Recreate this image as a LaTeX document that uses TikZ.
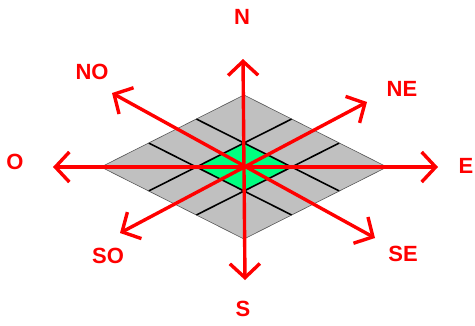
\documentclass[tikz,border=0pt]{standalone}
\usepackage{fontspec}
\setmainfont{Liberation Sans}
\usetikzlibrary{arrows.meta,calc}
\definecolor{rojo}{HTML}{FF0000}
\definecolor{verde}{HTML}{00FF80}
\definecolor{gris}{HTML}{C0C0C0}

\begin{document}
\begin{tikzpicture}[x=1pt,y=-1pt,
   flecha/.style={rojo,line width=3.4pt,{Straight Barb[length=14pt,width=30pt]}-{Straight Barb[length=14pt,width=30pt]}},
   rumbo/.style={text=rojo,font=\fontsize{22}{26}\selectfont\bfseries,inner sep=0pt},
   rejilla/.style={black,line width=1.6pt}]
  \useasboundingbox (0,0) rectangle (475,325);
  % rombo
  \coordinate (C) at (244,167);
  \coordinate (L) at (101,167);
  \coordinate (T) at (244,95);
  \coordinate (R) at (387,167);
  \coordinate (B) at (244,239);
  \fill[gris] (L) -- (T) -- (R) -- (B) -- cycle;
  % casilla central
  \fill[verde] ($(C)!1/3!(L)$) -- ($(C)!1/3!(T)$) -- ($(C)!1/3!(R)$) -- ($(C)!1/3!(B)$) -- cycle;
  % rejilla
  \foreach \f in {1/3,2/3} {
    \draw[rejilla] ($(L)!\f!(T)$) -- ($(B)!\f!(R)$);
    \draw[rejilla] ($(T)!\f!(R)$) -- ($(L)!\f!(B)$);
  }
  \draw[gris!45!black,semithick] (L) -- (T) -- (R) -- (B) -- cycle;
  % puntas de las flechas
  \coordinate (pN) at (243,59);
  \coordinate (pS) at (245,280);
  \coordinate (pE) at (438,167);
  \coordinate (pO) at (53,167);
  \coordinate (pNE) at (367,102);
  \coordinate (pSO) at (120,233);
  \coordinate (pNO) at (112,93);
  \coordinate (pSE) at (375,238);
  \draw[flecha] (pS) -- (pN);
  \draw[flecha] (pO) -- (pE);
  \draw[flecha] (pSO) -- (pNE);
  \draw[flecha] (pNO) -- (pSE);
  % rotulos
  \node[rumbo] (N) at (242,17) {N};
  \node[rumbo] (NO) at (92,72) {NO};
  \node[rumbo] (NE) at (402,89) {NE};
  \node[rumbo] (O) at (15,162) {O};
  \node[rumbo] (E) at (466,166) {E};
  \node[rumbo] (SO) at (108,256) {SO};
  \node[rumbo] (SE) at (403,254) {SE};
  \node[rumbo] (S) at (243,309) {S};
\end{tikzpicture}
\end{document}
